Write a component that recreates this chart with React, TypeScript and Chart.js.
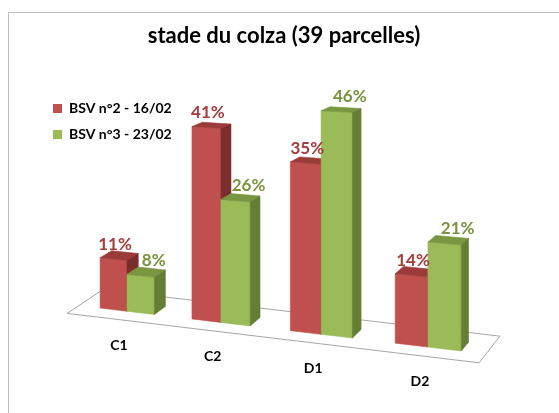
import React, { useEffect, useRef } from "react";
import { Chart, registerables } from "chart.js";

Chart.register(...registerables);

// ---------- data ----------
const TITLE = "stade du colza (39 parcelles)";
const categories = ["C1", "C2", "D1", "D2"];
const seriesNames = ["BSV n°2 - 16/02", "BSV n°3 - 23/02"];
const bsv2Values = [11, 41, 35, 14];
const bsv3Values = [8, 26, 46, 21];
const valueMax = 50;

// ---------- style ----------
const FONT = "Lato, 'Open Sans', sans-serif";
const palettes = [
  { front: "#C0504D", top: "#9A3B39", side: "#7C2D2B", label: "#A23D3B", labelShift: 1.5 },
  { front: "#9BBB59", top: "#7A9640", side: "#657D35", label: "#77933C", labelShift: 13 },
];

// ---------- 3D projection (page coordinates) ----------
const OFF_X = 9;
const OFF_Y = 13;
const projX = (u: number) => 82.5 + 349.3 * u + 52 * u * u;
const baseY = (x: number) => 308 + 0.119 * (x - 100);
const unitH = (x: number) => 4.8 + 0.0013 * (x - 275);
const depthX = (x: number) => 11 - 0.012 * (x - 150);
const depthY = (y: number) => -(4 + 0.02 * (y - 110));

function poly(ctx: CanvasRenderingContext2D, pts: number[][], color: string) {
  ctx.beginPath();
  ctx.moveTo(pts[0][0], pts[0][1]);
  for (let i = 1; i < pts.length; i++) ctx.lineTo(pts[i][0], pts[i][1]);
  ctx.closePath();
  ctx.fillStyle = color;
  ctx.fill();
  ctx.strokeStyle = color;
  ctx.lineWidth = 0.6;
  ctx.stroke();
}

const bars3d = {
  id: "bars3d",
  beforeDatasetsDraw(chart: any) {
    const { ctx, chartArea, scales } = chart;
    const ys = scales.y;
    const xs = scales.x;
    const toU = (px: number) => (px - chartArea.left) / chartArea.width;
    ctx.save();
    ctx.translate(-OFF_X, -OFF_Y);

    // floor
    const floorPt = (u: number, d: number) => {
      const fx = projX(u);
      const fy = baseY(fx);
      return [fx + d * depthX(fx), fy + d * depthY(fy)];
    };
    const f1 = floorPt(-0.01, -1);
    const f2 = floorPt(1.005, -1);
    const f3 = floorPt(1.005, 2);
    const f4 = floorPt(-0.01, 2);
    ctx.beginPath();
    ctx.moveTo(f1[0], f1[1]);
    ctx.lineTo(f2[0], f2[1]);
    ctx.lineTo(f3[0], f3[1]);
    ctx.lineTo(f4[0], f4[1]);
    ctx.closePath();
    ctx.fillStyle = "#ffffff";
    ctx.fill();
    ctx.strokeStyle = "#A6A6A6";
    ctx.lineWidth = 1;
    ctx.stroke();

    const metas = chart.getSortedVisibleDatasetMetas();
    const labels: any[] = [];
    for (let i = 0; i < categories.length; i++) {
      metas.forEach((meta: any, di: number) => {
        const el = meta.data[i];
        const pal = palettes[di];
        const { x, y, base, width } = el.getProps(["x", "y", "base", "width"], true);
        const v = ys.getValueForPixel(y) - ys.getValueForPixel(base);
        const xl = projX(toU(x - width / 2));
        const xr = projX(toU(x + width / 2));
        const bl = baseY(xl);
        const br = baseY(xr);
        const tl = bl - v * unitH(xl);
        const tr = br - v * unitH(xr);
        poly(ctx, [[xl, bl], [xr, br], [xr, tr], [xl, tl]], pal.front);
        poly(ctx, [[xl, tl], [xr, tr], [xr + depthX(xr), tr + depthY(tr)], [xl + depthX(xl), tl + depthY(tl)]], pal.top);
        poly(ctx, [[xr, tr], [xr + depthX(xr), tr + depthY(tr)], [xr + depthX(xr), br + depthY(br)], [xr, br]], pal.side);
        const cx = (xl + xr) / 2;
        const ct = baseY(cx) - v * unitH(cx);
        labels.push({ text: chart.data.datasets[di].data[i] + "%", x: cx + pal.labelShift, y: ct - 15, color: pal.label });
      });
    }

    ctx.textAlign = "center";
    ctx.textBaseline = "middle";
    ctx.font = `bold 17px ${FONT}`;
    labels.forEach((l) => {
      ctx.fillStyle = l.color;
      ctx.fillText(l.text, l.x, l.y);
    });

    ctx.font = `bold 14px ${FONT}`;
    ctx.fillStyle = "#000000";
    categories.forEach((c, i) => {
      const sx = projX(toU(xs.getPixelForValue(i)));
      ctx.fillText(chart.data.labels[i], sx - 8, baseY(sx) + 34);
    });

    ctx.restore();
    return false;
  },
};

export default function App() {
  const ref = useRef<HTMLCanvasElement>(null);
  useEffect(() => {
    const chart = new Chart(ref.current as HTMLCanvasElement, {
      type: "bar",
      data: {
        labels: categories,
        datasets: [
          { label: seriesNames[0], data: bsv2Values, backgroundColor: palettes[0].front, borderWidth: 0 },
          { label: seriesNames[1], data: bsv3Values, backgroundColor: palettes[1].front, borderWidth: 0 },
        ],
      },
      options: {
        responsive: false,
        animation: false,
        events: [],
        layout: { padding: { left: 32, right: 32, bottom: 10 } },
        datasets: { bar: { categoryPercentage: 0.6, barPercentage: 1 } },
        scales: {
          x: { display: false },
          y: { display: false, min: 0, max: valueMax },
        },
        plugins: {
          title: {
            display: true,
            text: TITLE,
            color: "#000000",
            font: { family: FONT, size: 22, weight: "bold" },
            padding: { top: 10, bottom: 40 },
          },
          legend: {
            position: "left",
            align: "start",
            fullSize: false,
            labels: {
              boxWidth: 9,
              boxHeight: 9,
              padding: 12,
              color: "#000000",
              font: { family: FONT, size: 14, weight: "bold" },
            },
          },
          tooltip: { enabled: false },
        },
      },
      plugins: [bars3d],
    } as any);
    return () => chart.destroy();
  }, []);
  return (
    <div
      style={{
        position: "fixed",
        left: 8,
        top: 12,
        width: 551,
        height: 401,
        borderTop: "1px solid #BFBFBF",
        borderLeft: "1px solid #BFBFBF",
        boxSizing: "border-box",
        background: "#ffffff",
      }}
    >
      <canvas ref={ref} width={550} height={400} style={{ display: "block" }} />
    </div>
  );
}
